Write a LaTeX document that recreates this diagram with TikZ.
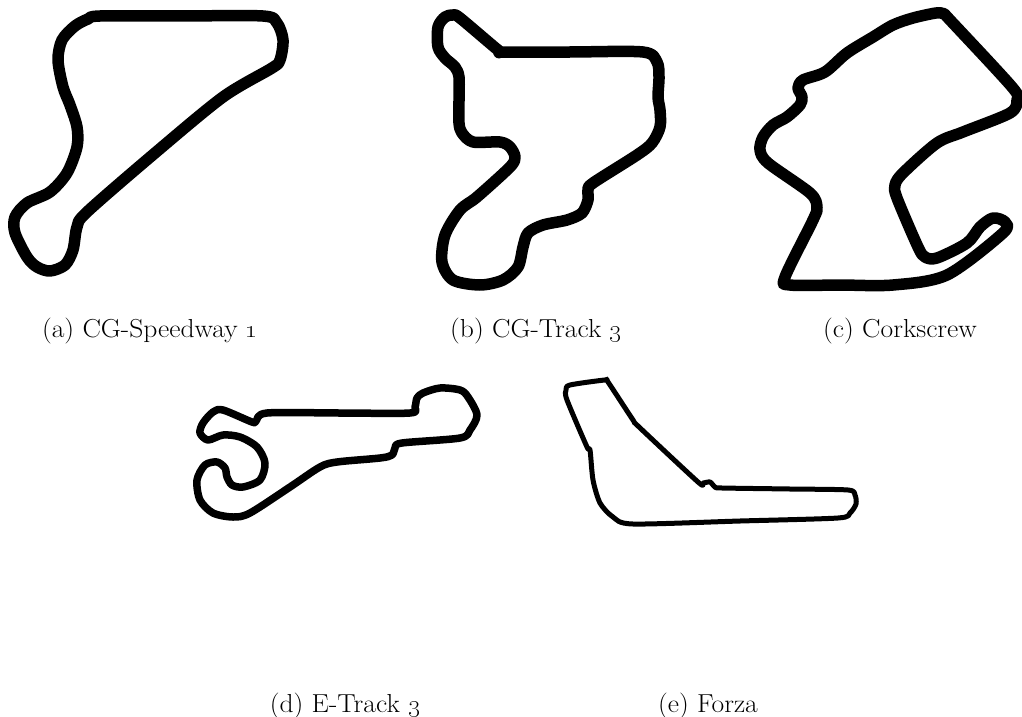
\documentclass[tikz,border=0pt]{standalone}
\begin{document}
\begin{tikzpicture}[x=1pt,y=-1pt,
  thick track/.style={line width=11.5pt,line join=round,line cap=round},
  mid track/.style={line width=7.5pt,line join=round,line cap=round},
  thin track/.style={line width=5pt,line join=round,line cap=round},
  caption/.style={font=\fontsize{26}{30}\selectfont,inner sep=0pt,anchor=base}]
\useasboundingbox (0,0) rectangle (1022,717);
% (a) CG-Speedway 1
\draw[thick track] plot[smooth cycle,tension=0.5] coordinates {
 (100,16) (180,16) (263,16) (277,23) (283,40) (280,60) (272,68) (223,97)
 (155,153) (87,212) (77,227) (73,250) (65,265) (50,271) (37,267) (27,257)
 (15,233) (15,217) (27,203) (50,192) (67,173) (77,147) (77,127) (70,105)
 (63,87) (58,60) (62,40) (75,26) (88,19)};
% (b) CG-Track 3
\draw[thick track] plot[smooth cycle,tension=0.5] coordinates {
 (445,17) (453,15) (460,18) (498,50) (503,52) (570,52) (643,52) (657,62)
 (659,77) (658,97) (660,110) (660,127) (652,143) (637,155) (593,183)
 (588,190) (588,200) (582,213) (567,220) (543,225) (528,233) (523,247)
 (518,267) (503,280) (480,285) (453,280) (442,262) (445,235) (460,210)
 (477,197) (510,167) (515,157) (510,147) (500,142) (473,142) (462,133)
 (459,123) (459,100) (459,77) (455,67) (445,58) (438,47) (438,27)};
% (c) Corkscrew
\draw[thick track] plot[smooth cycle,tension=0.5] coordinates {
 (936,13) (913,18) (893,25) (873,37) (847,53) (825,72) (803,80) (798,88)
 (802,97) (800,105) (787,117) (773,125) (763,137) (760,150) (768,163)
 (810,193) (817,207) (813,220) (785,277) (790,285) (840,285) (893,285)
 (947,275) (1003,233) (1005,222) (993,218) (980,227) (967,243) (937,258)
 (925,257) (918,247) (897,198) (895,185) (903,173) (937,143) (963,132)
 (1010,113) (1017,100) (1012,87) (950,20) (944,14)};
% (d) E-Track 3
\draw[mid track] plot[smooth cycle,tension=0.5] coordinates {
 (267,413) (340,413) (410,413) (415,407) (417,398) (423,393) (440,388)
 (460,390) (468,397) (477,415) (470,430) (460,438) (402,443) (395,448)
 (392,455) (380,458) (337,462) (320,467) (290,487) (250,513) (233,517)
 (213,513) (200,500) (197,480) (205,465) (217,462) (225,468) (227,477)
 (232,485) (243,487) (260,480) (265,463) (257,447) (240,437) (223,435)
 (208,440) (200,433) (203,423) (213,412) (223,410) (252,422) (256,421)};
% (e) Forza
\draw[thin track] plot[smooth cycle,tension=0.45] coordinates {
 (570,385) (605,380) (608,382) (633,420) (638,426) (698,482) (703,483)
 (710,482) (715,487) (722,488) (790,489) (848,490) (855,495) (856,504)
 (850,513) (838,518) (740,521) (633,524) (613,517) (600,503) (593,480)
 (590,450) (587,447) (567,400) (566,390)};
\node[caption] (capa) at (150,337) {\scalebox{1.06}[1]{(a) CG-Speedway \oldstylenums{1}}};
\node[caption] (capb) at (536,337) {\scalebox{1.06}[1]{(b) CG-Track \oldstylenums{3}}};
\node[caption] (capc) at (900,337) {\scalebox{1.06}[1]{(c) Corkscrew}};
\node[caption] (capd) at (345,712) {\scalebox{1.06}[1]{(d) E-Track \oldstylenums{3}}};
\node[caption] (cape) at (708,712) {\scalebox{1.06}[1]{(e) Forza}};
\end{tikzpicture}
\end{document}
